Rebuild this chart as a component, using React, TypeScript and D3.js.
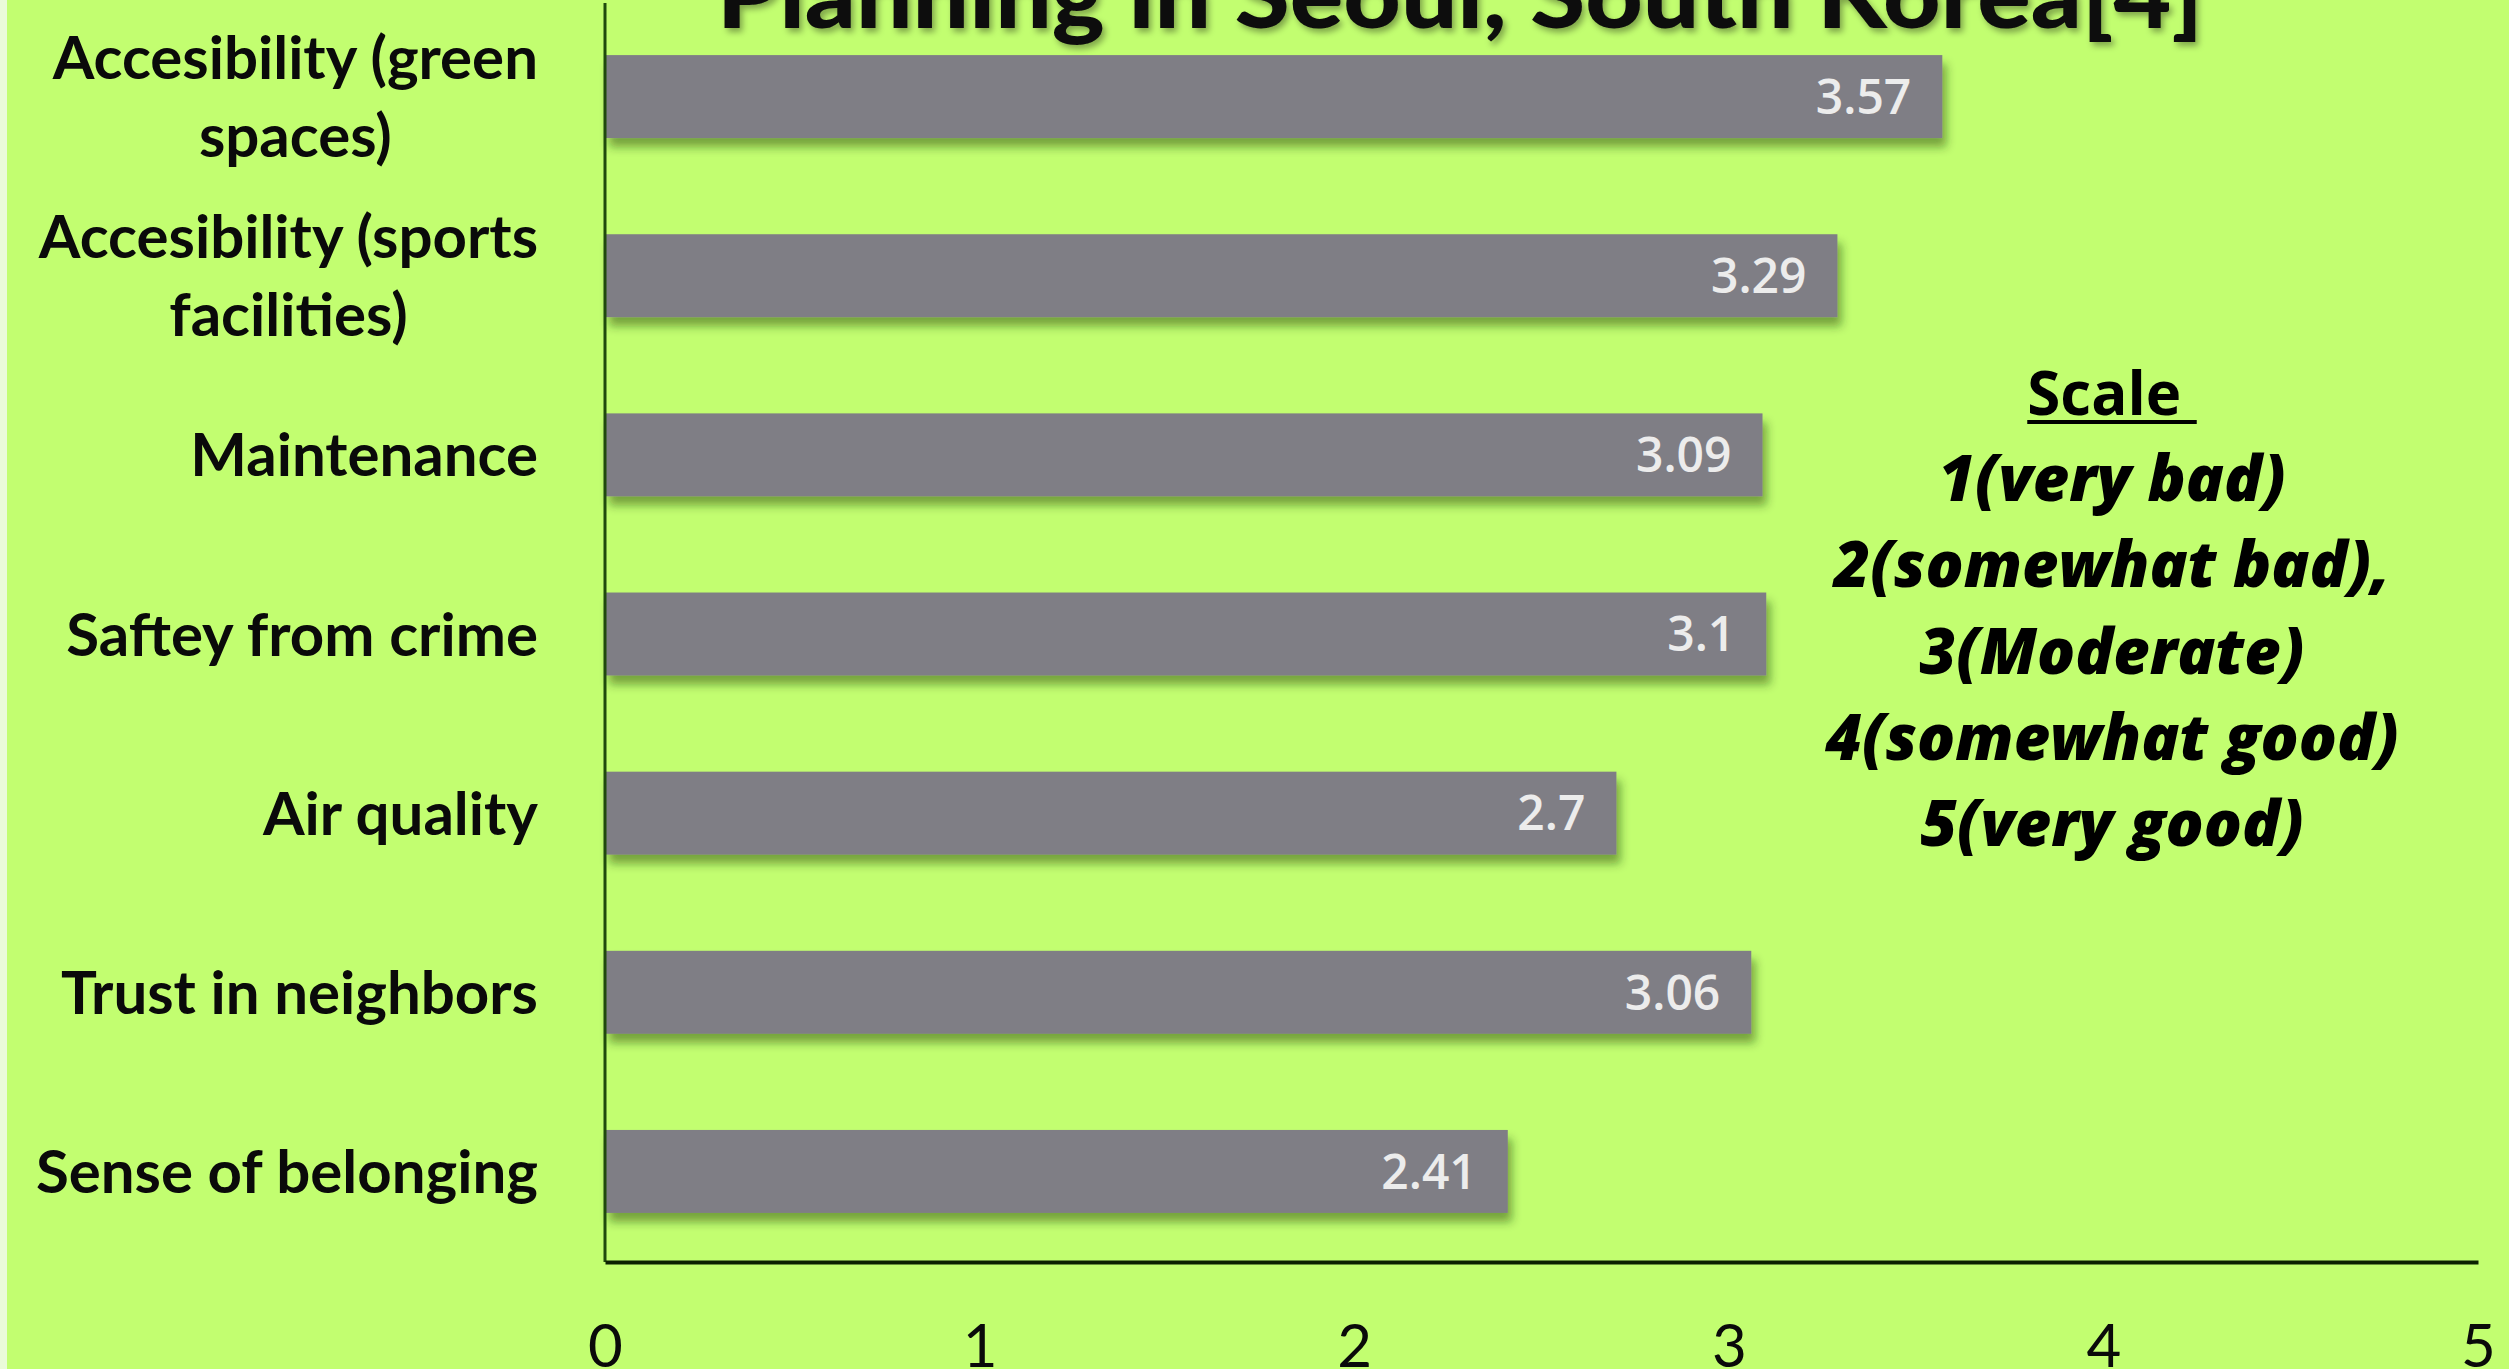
import React, { useEffect, useRef } from 'react';
import * as d3 from 'd3';

const categories = [
  'Accesibility (green\nspaces)',
  'Accesibility (sports\nfacilities)',
  'Maintenance',
  'Saftey from crime',
  'Air quality',
  'Trust in neighbors',
  'Sense of belonging',
];
const values = [3.57, 3.29, 3.09, 3.1, 2.7, 3.06, 2.41];
const tickValues = [0, 1, 2, 3, 4, 5];
const titleText = 'Planning in Seoul, South Korea[4]';
const scaleTitle = 'Scale ';
const scaleLines = [
  '1(very bad)',
  '2(somewhat bad),',
  '3(Moderate)',
  '4(somewhat good)',
  '5(very good)',
];

const W = 2509;
const H = 1369;

const App: React.FC = () => {
  const svgRef = useRef<SVGSVGElement>(null);

  useEffect(() => {
    if (!svgRef.current) return;
    const svg = d3.select(svgRef.current);
    svg.selectAll('*').remove();

    const x = d3.scaleLinear().domain([0, 5]).range([605, 2478]);
    const y = d3.scaleBand<string>()
      .domain(categories)
      .range([7, 1261])
      .paddingInner(0.537)
      .paddingOuter(0.2685);

    const defs = svg.append('defs');
    const shadow = defs.append('filter').attr('id', 'barShadow')
      .attr('x', '-5%').attr('y', '-30%').attr('width', '110%').attr('height', '170%');
    shadow.append('feDropShadow')
      .attr('dx', 4).attr('dy', 9).attr('stdDeviation', 5)
      .attr('flood-color', '#1a3300').attr('flood-opacity', 0.45);
    const tshadow = defs.append('filter').attr('id', 'titleShadow')
      .attr('x', '-5%').attr('y', '-50%').attr('width', '110%').attr('height', '200%');
    tshadow.append('feDropShadow')
      .attr('dx', 3).attr('dy', 4).attr('stdDeviation', 3)
      .attr('flood-color', '#000').attr('flood-opacity', 0.35);

    // background
    svg.append('rect').attr('width', W).attr('height', H).attr('fill', '#c2fe70');
    svg.append('rect').attr('width', 7).attr('height', H).attr('fill', '#eafbd9');

    // title (upper part cropped off as in the source)
    svg.append('text')
      .attr('x', 1460).attr('y', 28)
      .attr('text-anchor', 'middle')
      .attr('font-family', 'Lato, sans-serif')
      .attr('font-weight', 900)
      .attr('font-size', 92)
      .attr('textLength', 1486)
      .attr('lengthAdjust', 'spacingAndGlyphs')
      .attr('fill', '#0a0a0a')
      .attr('filter', 'url(#titleShadow)')
      .text(titleText);

    // bars
    svg.append('g').selectAll('rect')
      .data(values)
      .join('rect')
      .attr('x', x(0))
      .attr('y', (_, i) => y(categories[i]) as number)
      .attr('width', d => x(d) - x(0))
      .attr('height', y.bandwidth())
      .attr('fill', '#7f7e85')
      .attr('filter', 'url(#barShadow)');

    // value labels
    svg.append('g').selectAll('text')
      .data(values)
      .join('text')
      .attr('x', d => x(d) - 31)
      .attr('y', (_, i) => (y(categories[i]) as number) + y.bandwidth() / 2)
      .attr('dy', '0.36em')
      .attr('text-anchor', 'end')
      .attr('font-family', '"Open Sans", sans-serif')
      .attr('font-weight', 600)
      .attr('font-size', 48)
      .attr('fill', '#ececec')
      .text(d => String(d));

    // y axis line
    svg.append('line')
      .attr('x1', x(0)).attr('x2', x(0))
      .attr('y1', 3).attr('y2', 1262)
      .attr('stroke', '#1f4a0c').attr('stroke-width', 3);

    // x axis
    const xAxis = d3.axisBottom(x)
      .tickValues(tickValues)
      .tickFormat(d3.format('d'))
      .tickSizeInner(0)
      .tickSizeOuter(0)
      .tickPadding(62);
    const gx = svg.append('g').attr('transform', 'translate(0,1262)').call(xAxis);
    gx.select('.domain').attr('stroke', '#0b2200').attr('stroke-width', 4);
    gx.selectAll('text')
      .attr('font-family', 'Lato, sans-serif')
      .attr('font-size', 60)
      .attr('fill', '#0a0a0a');

    // category labels
    const labelRight = 538;
    const lineGap = 78;
    categories.forEach(cat => {
      const lines = cat.split('\n');
      const cy = (y(cat) as number) + y.bandwidth() / 2;
      const g = svg.append('g');
      const texts = lines.map((ln, j) =>
        g.append('text')
          .attr('y', cy + (j - (lines.length - 1) / 2) * lineGap)
          .attr('dy', '0.36em')
          .attr('font-family', 'Lato, sans-serif')
          .attr('font-weight', 700)
          .attr('font-size', 60)
          .attr('fill', '#0a0a0a')
          .text(ln)
      );
      const widths = texts.map(t => (t.node() as SVGTextElement).getComputedTextLength());
      const maxW = d3.max(widths) || 0;
      texts.forEach(t => t.attr('x', labelRight - maxW / 2).attr('text-anchor', 'middle'));
    });

    // scale note
    const noteX = 2112;
    const noteY0 = 415;
    const noteGap = 86.2;
    const st = svg.append('text')
      .attr('x', noteX).attr('y', noteY0)
      .attr('text-anchor', 'middle')
      .attr('font-family', '"Open Sans", sans-serif')
      .attr('font-weight', 700)
      .attr('font-size', 60)
      .attr('fill', '#000')
      .style('white-space', 'pre')
      .text(scaleTitle);
    const stW = (st.node() as SVGTextElement).getComputedTextLength();
    svg.append('rect')
      .attr('x', noteX - stW / 2).attr('y', noteY0 + 5)
      .attr('width', stW).attr('height', 4)
      .attr('fill', '#000');

    svg.append('g').selectAll('text')
      .data(scaleLines)
      .join('text')
      .attr('x', noteX)
      .attr('y', (_, i) => noteY0 + (i + 1) * noteGap)
      .attr('text-anchor', 'middle')
      .attr('font-family', '"Open Sans", sans-serif')
      .attr('font-weight', 800)
      .attr('font-style', 'italic')
      .attr('font-size', 63)
      .attr('fill', '#000')
      .text(d => d);
  }, []);

  return (
    <svg
      ref={svgRef}
      width={W}
      height={H}
      style={{ position: 'absolute', left: 0, top: 0, display: 'block' }}
    />
  );
};

export default App;
